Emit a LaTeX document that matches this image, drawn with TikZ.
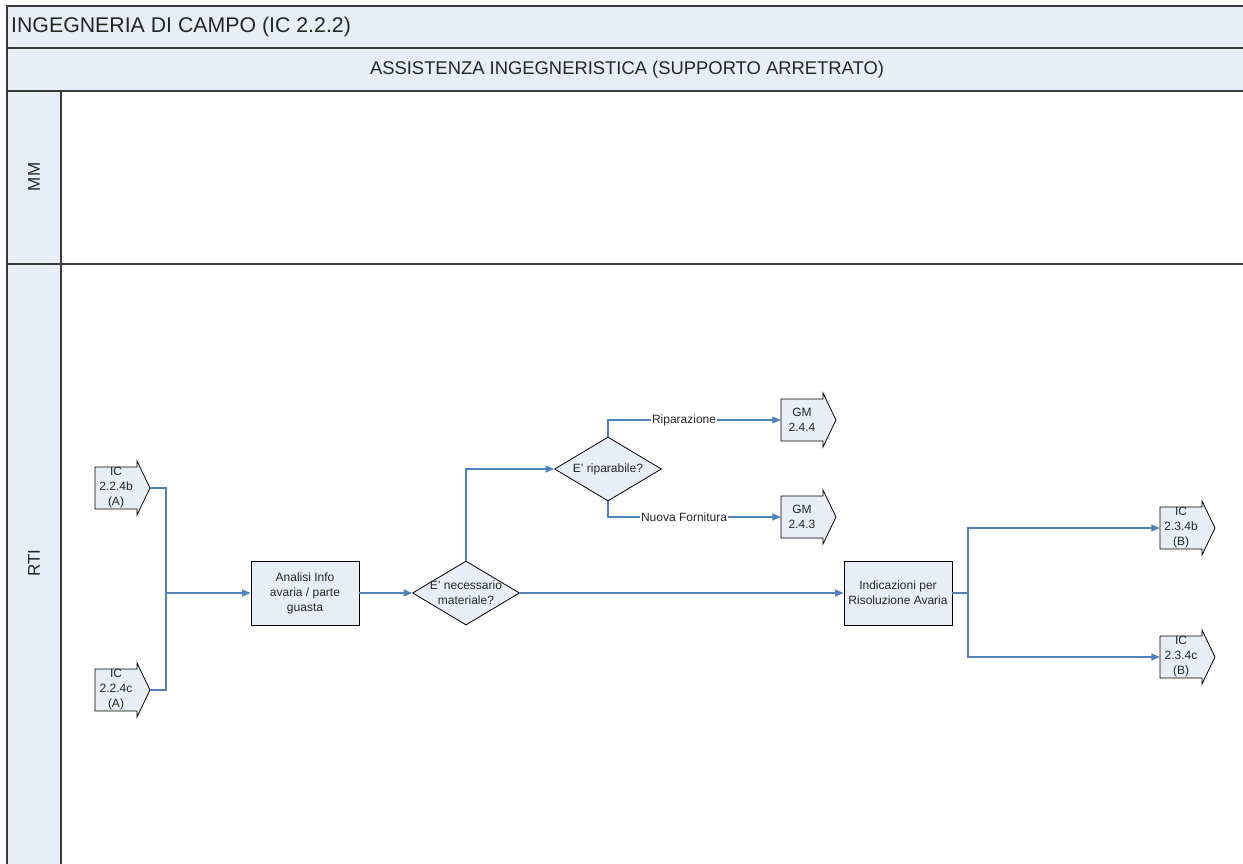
\documentclass[tikz,border=0pt]{standalone}
\usepackage{fontspec}
\setmainfont{Liberation Sans}
\usetikzlibrary{arrows.meta,shapes.geometric}
\definecolor{fillc}{HTML}{E8EEF7}
\definecolor{linec}{HTML}{4F81BD}
\definecolor{framec}{HTML}{3A3A3A}
\definecolor{txtc}{HTML}{262626}
\newcommand\offpg[4]{%
  \draw[draw=black,fill=fillc,line width=0.8pt] (#2,#3-21) -- ++(42,0) -- ++(0,-6) -- (#2+55,#3) -- (#2+42,#3+27) -- ++(0,-6) -- (#2,#3+21) -- cycle;
  \node[inner sep=0,minimum width=55,minimum height=42] (#1) at (#2+27.5,#3) {};
  \node[txt] at (#2+21,#3) {#4};
}
\begin{document}
\begin{tikzpicture}[x=1pt,y=-1pt,
  frame/.style={draw=framec,line width=1.5pt},
  box/.style={draw=black,fill=fillc,line width=0.8pt,minimum width=108,minimum height=64,inner sep=0,font=\fontsize{12}{15}\selectfont,text=txtc,align=center},
  diam/.style={diamond,draw=black,fill=fillc,line width=0.8pt,minimum width=107,minimum height=64,inner sep=0},
  txt/.style={font=\fontsize{12}{15}\selectfont,text=txtc,align=center,inner sep=0},
  conn/.style={draw=linec,line width=1.1pt},
  arr/.style={conn,-{Triangle[length=8.5pt,width=7pt]}},
  lab/.style={txt,fill=white,inner sep=1pt},
]
\useasboundingbox (0,0) rectangle (1243,864);
\fill[fillc] (7,6) rectangle (1243,91);
\fill[fillc] (7,91) rectangle (61,864);
\draw[frame] (1243,6) -- (7,6) -- (7,864);
\draw[frame] (7,48) -- (1243,48);
\draw[frame] (7,91) -- (1243,91);
\draw[frame] (7,264) -- (1243,264);
\draw[frame] (61,91) -- (61,864);
\node[anchor=west,inner sep=0,text=txtc,font=\fontsize{21.3}{25}\selectfont] (title) at (11,27) {INGEGNERIA DI CAMPO (IC 2.2.2)};
\node[inner sep=0,text=txtc,font=\fontsize{18.4}{22}\selectfont] (sub) at (627,70) {ASSISTENZA INGEGNERISTICA (SUPPORTO ARRETRATO)};
\node[rotate=90,inner sep=0,text=txtc,font=\fontsize{17}{20}\selectfont] (mm) at (34,177) {MM};
\node[rotate=90,inner sep=0,text=txtc,font=\fontsize{17}{20}\selectfont] (rti) at (34,563) {RTI};

\offpg{ic1}{95}{488}{IC\\2.2.4b\\(A)}
\offpg{ic2}{95}{690}{IC\\2.2.4c\\(A)}
\offpg{gm1}{781}{420}{GM\\2.4.4}
\offpg{gm2}{781}{517}{GM\\2.4.3}
\offpg{ic3}{1160}{528}{IC\\2.3.4b\\(B)}
\offpg{ic4}{1160}{657}{IC\\2.3.4c\\(B)}

\node[box] (an) at (305,593) {Analisi Info\\avaria / parte\\guasta};
\node[diam] (d1) at (466,593) {};
\node[txt] at (d1) {E' necessario\\materiale?};
\node[diam] (d2) at (608,469) {};
\node[txt] at (d2) {E' riparabile?};
\node[box] (ind) at (898,593) {Indicazioni per\\Risoluzione Avaria};

\coordinate (j1) at (166,593);
\coordinate (j2) at (968,593);
\draw[conn] (ic1.east) -| (j1) |- (ic2.east);
\draw[arr] (j1) -- (an.west);
\draw[arr] (an.east) -- (d1.west);
\draw[arr] (d1.north) |- (d2.west);
\draw[arr] (d2.north) |- node[lab,pos=0.72]{Riparazione} (gm1.west);
\draw[arr] (d2.south) |- node[lab,pos=0.72]{Nuova Fornitura} (gm2.west);
\draw[arr] (d1.east) -- (ind.west);
\draw[conn] (ind.east) -- (j2);
\draw[arr] (j2) |- (ic3.west);
\draw[arr] (j2) |- (ic4.west);
\end{tikzpicture}
\end{document}
